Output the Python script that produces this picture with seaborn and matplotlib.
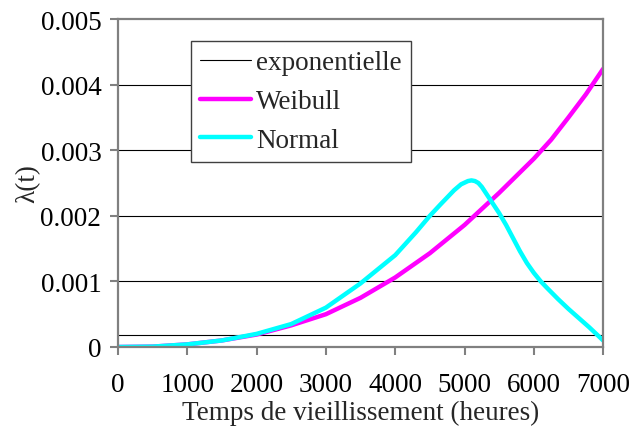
import numpy as np
import pandas as pd
import seaborn as sns
import matplotlib.pyplot as plt

# (hours, lambda(t))
t_weibull = [0, 500, 1000, 1500, 2000, 2500, 3000, 3500, 4000, 4500, 5000, 5500, 6000,
             6250, 6500, 6750, 7000]
weibull = [0, 0.000006, 0.00004, 0.0001, 0.00019, 0.00033, 0.0005, 0.00075, 0.00106,
           0.00143, 0.00186, 0.00235, 0.00287, 0.00316, 0.00350, 0.00385, 0.00424]

t_normal = [0, 500, 1000, 1500, 2000, 2500, 3000, 3500, 4000, 4300, 4500, 4650, 4750, 4850,
            4950, 5050, 5100, 5150, 5200, 5250, 5300, 5400, 5500, 5600, 5700, 5800, 5900,
            6000, 6100, 6200, 6350, 6500, 6650, 6800, 7000]
normal = [0, 0.000006, 0.00004, 0.0001, 0.0002, 0.00035, 0.0006, 0.00097, 0.0014, 0.00175,
          0.002, 0.00217, 0.00228, 0.00239, 0.00248, 0.00253, 0.00254, 0.00253, 0.0025,
          0.00244, 0.00236, 0.0022, 0.00204, 0.00186, 0.00166, 0.00146, 0.00128, 0.00113,
          0.001, 0.00089, 0.00073, 0.00058, 0.00044, 0.0003, 0.0001]

t_expo = [0, 7000]
expo = [0.00018, 0.00018]

sns.set_style("white")
plt.rcParams['font.family'] = ['Liberation Serif', 'DejaVu Serif']

fig = plt.figure(figsize=(6.43, 4.35), dpi=100)
ax = fig.add_axes([0.1835, 0.2, 0.7545, 0.754])

grey = "#808080"
for y in [0.001, 0.002, 0.003, 0.004]:
    ax.axhline(y, color="black", lw=0.8, zorder=1)

sns.lineplot(x=t_expo, y=expo, ax=ax, color="black", lw=0.8, label="exponentielle")
sns.lineplot(x=t_weibull, y=weibull, ax=ax, color="#ff00ff", lw=3.2, label="Weibull")
sns.lineplot(x=t_normal, y=normal, ax=ax, color="#00ffff", lw=3.2, label="Normal")

ax.set_xlim(0, 7000)
ax.set_ylim(0, 0.005)
ax.set_xticks(np.arange(0, 7001, 1000))
ax.set_yticks([0, 0.001, 0.002, 0.003, 0.004, 0.005])
ax.set_yticklabels(["0", "0.001", "0.002", "0.003", "0.004", "0.005"])

for s in ax.spines.values():
    s.set_color(grey)
    s.set_linewidth(1.6)

ax.tick_params(axis="both", direction="out", length=6, width=1.5, color=grey,
               labelsize=19.5, labelcolor="black")
ax.tick_params(axis="x", pad=12, bottom=True)
ax.tick_params(axis="y", pad=6, left=True)

ax.set_xlabel("Temps de vieillissement (heures)", fontsize=19.5, labelpad=2)
ax.set_ylabel("λ(t)", fontsize=19.5, labelpad=0)

leg = ax.legend(loc="upper left", bbox_to_anchor=(0.1505, 0.933), borderaxespad=0,
                fontsize=19.5, fancybox=False, framealpha=1, edgecolor="#404040",
                handlelength=1.85, handletextpad=0.2, labelspacing=0.5, borderpad=0.35)
leg.get_frame().set_linewidth(1.0)

fig.savefig("out.png", dpi=100)
